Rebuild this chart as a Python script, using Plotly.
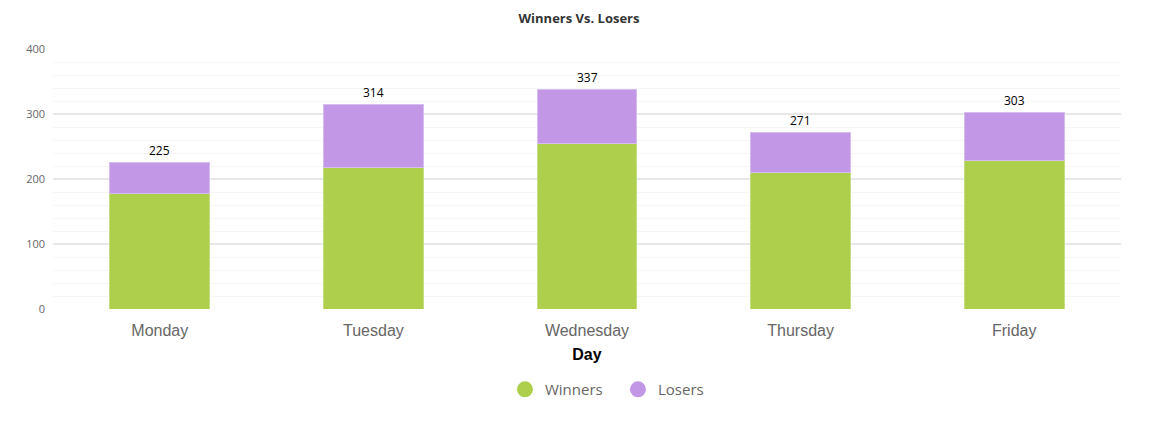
import plotly.graph_objects as go

days = ["Monday", "Tuesday", "Wednesday", "Thursday", "Friday"]
winners = [178, 218, 254, 210, 229]
losers = [47, 96, 83, 61, 74]
totals = [225, 314, 337, 271, 303]
y_ticks = [0, 100, 200, 300, 400]

green = "#AECF4C"
purple = "#C298E6"

fig = go.Figure()
fig.add_trace(go.Bar(x=days, y=winners, name="Winners", marker=dict(color=green, line=dict(color="#C4DD80", width=1)),
                     showlegend=False))
fig.add_trace(go.Bar(x=days, y=losers, name="Losers", marker=dict(color=purple, line=dict(color="#D6BDF0", width=1)),
                     showlegend=False))
# legend entries with circle symbols
fig.add_trace(go.Scatter(x=[None], y=[None], mode="markers", name="Winners",
                         marker=dict(symbol="circle", size=16, color=green)))
fig.add_trace(go.Scatter(x=[None], y=[None], mode="markers", name="Losers",
                         marker=dict(symbol="circle", size=16, color=purple)))

for d, t in zip(days, totals):
    fig.add_annotation(x=d, y=t, text=str(t), showarrow=False, yshift=12,
                       font=dict(family="Open Sans", size=12, color="#000"))

fig.update_layout(
    width=1158, height=431,
    barmode="stack", bargap=0.532,
    paper_bgcolor="white", plot_bgcolor="white",
    margin=dict(l=53, r=37, t=49, b=122, autoexpand=False),
    title=dict(text="<b>Winners Vs. Losers</b>", x=0.5, xanchor="center", y=0.958, yanchor="middle",
               font=dict(family="Open Sans", size=13, color="#333")),
    legend=dict(orientation="h", x=0.529, xanchor="center", y=-0.31, yanchor="middle",
                font=dict(family="Open Sans", size=15, color="#666"), itemwidth=30,
                entrywidth=68, traceorder="normal"),
    xaxis=dict(type="category", categoryorder="array", categoryarray=days, automargin=False,
               tickfont=dict(family="Liberation Sans", size=16, color="#666"),
               showgrid=False, zeroline=False, showline=False, ticks="",
               ticklabelstandoff=10,
               title=dict(text="<b>Day</b>", font=dict(family="Liberation Sans", size=16, color="#000"), standoff=10)),
    yaxis=dict(range=[0, 400], tickvals=y_ticks, ticktext=[str(v) for v in y_ticks], automargin=False,
               tickfont=dict(family="Open Sans", size=11, color="#666"),
               showgrid=True, gridcolor="#E8E8E8", gridwidth=2, zeroline=False, ticks="",
               ticklabelstandoff=7,
               minor=dict(dtick=20, showgrid=True, gridcolor="#F6F6F6", gridwidth=1)),
)

fig.write_html("out.html", post_script="document.body.style.margin='0';",
               config={"displayModeBar": False})
